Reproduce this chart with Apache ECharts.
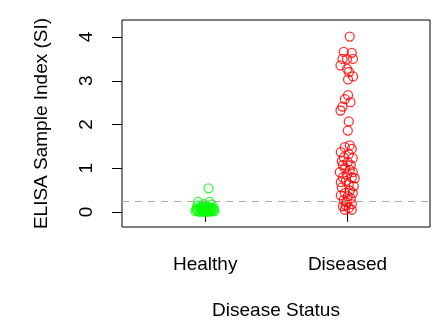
<!DOCTYPE html>
<html>
<head>
<meta charset="utf-8">
<script src="https://cdn.jsdelivr.net/npm/echarts@6/dist/echarts.min.js"></script>
<style>html,body{margin:0;padding:0;background:#fff}#c{width:440px;height:320px}</style>
</head>
<body>
<div id="c"></div>
<script>
const categories = ['Healthy', 'Diseased'];
const yTicks = [0, 1, 2, 3, 4];
const cutoff = 0.25;
// jitter offsets and SI values
const healthyJitter = [0.023, -0.05, 0.03, -0.012, 0.044, -0.061, -0.033, 0.002, 0.03, 0.058, -0.068, -0.04, -0.012, 0.016, 0.044, 0.065, -0.026, 0.009, -0.054, 0.037, 0.0,
  -0.05, -0.02, 0.01, 0.025, 0.05, -0.035, -0.005, 0.02, 0.06, -0.06, -0.025, 0.035];
const healthyValues = [0.54, 0.23, 0.23, 0.18, 0.17, 0.08, 0.06, 0.04, 0.06, 0.04, 0.02, 0.0, 0.0, 0.0, 0.01, 0.02, 0.1, 0.1, 0.15, 0.1, 0.13,
  0.03, 0.05, 0.07, 0.02, 0.07, 0.12, 0.02, 0.12, 0.09, 0.05, 0.03, 0.04];
const diseasedJitter = [0.016, -0.026, 0.03, -0.035, -0.003, 0.039, -0.049, -0.003, 0.011, 0.039, 0.004, 0.004, -0.019, 0.021, -0.035, -0.049, 0.009, 0.002,
  0.016, -0.019, 0.03, -0.047, 0.009, -0.026, 0.037, -0.04, 0.002, 0.023, -0.033, -0.019, 0.016, -0.054, 0.037, -0.005, -0.033, 0.03, 0.051, -0.012, -0.047, 0.009, 0.044, -0.04, 0.016, -0.019, 0.037, -0.047, 0.002, 0.023, -0.026, -0.005, 0.03, -0.012, -0.033, 0.009, -0.019, 0.03];
const diseasedValues = [4.01, 3.66, 3.64, 3.50, 3.50, 3.50, 3.35, 3.27, 3.20, 3.10, 3.03, 2.67, 2.58, 2.51, 2.41, 2.32, 2.07, 1.86,
  1.52, 1.48, 1.44, 1.37, 1.32, 1.25, 1.23, 1.16, 1.14, 1.07, 1.07, 1.0, 0.96, 0.91, 0.91, 0.86, 0.79, 0.79, 0.77, 0.71, 0.68, 0.63, 0.59, 0.56, 0.49, 0.43, 0.43, 0.38, 0.36, 0.31, 0.27, 0.22, 0.18, 0.15, 0.13, 0.09, 0.05, 0.05];

const font = 'Liberation Sans, Arial, Helvetica, sans-serif';
const healthyData = healthyValues.map((v, i) => [1 + healthyJitter[i], v]);
const diseasedData = diseasedValues.map((v, i) => [2 + diseasedJitter[i], v]);

const chart = echarts.init(document.getElementById('c'), null, {renderer: 'canvas'});
chart.setOption({
  animation: false,
  backgroundColor: '#fff',
  grid: {left: 122, right: 10, top: 20, bottom: 93, show: true, borderColor: '#000', borderWidth: 1,
    backgroundColor: 'transparent', containLabel: false, outerBoundsMode: 'none'},
  xAxis: {
    type: 'value', min: 0.415, max: 2.58,
    name: 'Disease Status', nameLocation: 'middle', nameGap: 74,
    nameTextStyle: {fontFamily: font, fontSize: 19, color: '#000'},
    axisLine: {show: false},
    splitLine: {show: false},
    axisTick: {show: true, length: 10, lineStyle: {color: '#000'}, customValues: [1, 2]},
    axisLabel: {customValues: [1, 2], margin: 28, fontFamily: font, fontSize: 19, color: '#000',
      formatter: v => categories[Math.round(v) - 1]}
  },
  yAxis: {
    type: 'value', min: -0.345, max: 4.39,
    name: 'ELISA Sample Index (SI)', nameLocation: 'middle', nameGap: 71, nameRotate: 90,
    nameTextStyle: {fontFamily: font, fontSize: 19, color: '#000'},
    axisLine: {show: false},
    splitLine: {show: false},
    axisTick: {show: true, length: 10, lineStyle: {color: '#000'}, customValues: yTicks},
    axisLabel: {customValues: yTicks, rotate: 90, margin: 26, fontFamily: font, fontSize: 19, color: '#000'}
  },
  series: [
    {
      type: 'scatter', data: healthyData, symbol: 'circle', symbolSize: 9,
      itemStyle: {color: 'rgba(0,0,0,0)', borderColor: '#00ff00', borderWidth: 1.3},
      markLine: {
        silent: true, symbol: 'none', label: {show: false},
        lineStyle: {color: '#aaaaaa', type: [7, 6], width: 1},
        data: [{yAxis: cutoff}]
      }
    },
    {
      type: 'scatter', data: diseasedData, symbol: 'circle', symbolSize: 9,
      itemStyle: {color: 'rgba(0,0,0,0)', borderColor: '#ff0000', borderWidth: 1.3}
    }
  ]
});
</script>
</body>
</html>
